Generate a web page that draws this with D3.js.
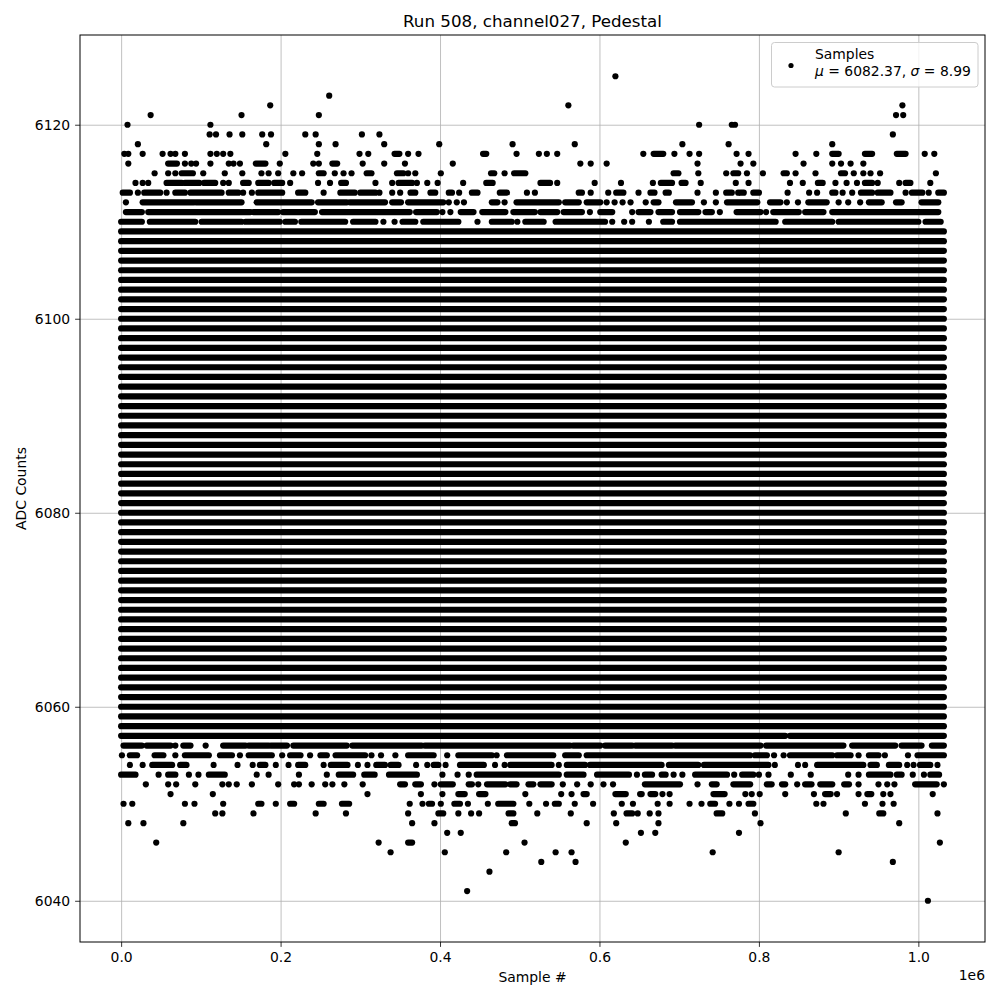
<!DOCTYPE html>
<meta charset="utf-8">
<script src="https://d3js.org/d3.v7.min.js"></script>
<style>
  body { margin: 0; background: #fff; }
  text { font-family: "DejaVu Sans", sans-serif; fill: #000; }
</style>
<body>
<svg id="chart" width="1000" height="1000"></svg>
<script>
// Sample # is kept in units of 1e6 (the axis shows the "1e6" offset)
var xTicks = [0.0, 0.2, 0.4, 0.6, 0.8, 1.0];
var yTicks = [6040, 6060, 6080, 6100, 6120];
var lastSample = 1.032;

// ADC levels hit all along the run
var fullLevels = [6058, 6059, 6060, 6061, 6062, 6063, 6064, 6065, 6066, 6067,
  6068, 6069, 6070, 6071, 6072, 6073, 6074, 6075, 6076, 6077, 6078, 6079,
  6080, 6081, 6082, 6083, 6084, 6085, 6086, 6087, 6088, 6089, 6090, 6091,
  6092, 6093, 6094, 6095, 6096, 6097, 6098, 6099, 6100, 6101, 6102, 6103,
  6104, 6105, 6106, 6107, 6108, 6109];

// stretches of consecutive samples on the sparser levels: [level, [[from, to], ...]]
var runs = [
  [6117, [[0.343,0.349],[0.454,0.458],[0.668,0.680],[0.892,0.900],[0.933,0.942],[0.973,0.984]]],
  [6116, [[0.059,0.070],[0.169,0.181],[0.265,0.271]]],
  [6115, [[0.076,0.090],[0.248,0.254],[0.308,0.314],[0.346,0.354],[0.464,0.468],[0.493,0.507],
          [0.693,0.699],[0.768,0.774],[0.831,0.835],[0.903,0.908]]],
  [6114, [[0.057,0.076],[0.080,0.098],[0.104,0.118],[0.153,0.160],[0.172,0.185],[0.192,0.202],
          [0.276,0.282],[0.348,0.365],[0.458,0.466],[0.526,0.538],[0.677,0.691],[0.703,0.708],
          [0.874,0.880],[0.933,0.942],[0.984,0.990]]],
  [6113, [[0.002,0.011],[0.029,0.049],[0.068,0.080],[0.087,0.126],[0.135,0.147],[0.172,0.202],
          [0.222,0.231],[0.275,0.293],[0.300,0.319],[0.363,0.369],[0.388,0.394],[0.411,0.415],
          [0.440,0.447],[0.475,0.484],[0.574,0.578],[0.621,0.630],[0.664,0.669],[0.683,0.687],
          [0.759,0.766],[0.777,0.781],[0.793,0.800],[0.892,0.896],[0.928,0.942],[0.949,0.965],
          [0.992,1.005],[1.025,1.032]]],
  [6112, [[0.027,0.091],[0.094,0.151],[0.170,0.239],[0.247,0.283],[0.287,0.331],[0.340,0.351],
          [0.360,0.404],[0.465,0.472],[0.496,0.549],[0.557,0.574],[0.584,0.601],[0.668,0.674],
          [0.696,0.716],[0.760,0.798],[0.814,0.827],[0.862,0.885],[0.938,0.954],[0.972,0.979],
          [1.004,1.025]]],
  [6111, [[0.006,0.026],[0.034,0.162],[0.166,0.197],[0.203,0.243],[0.252,0.362],[0.370,0.396],
          [0.426,0.442],[0.453,0.482],[0.492,0.519],[0.526,0.547],[0.555,0.578],[0.601,0.616],
          [0.649,0.664],[0.674,0.691],[0.701,0.724],[0.733,0.741],[0.772,0.802],[0.818,0.850],
          [0.858,0.881],[0.892,1.025]]],
  [6110, [[0.000,0.026],[0.036,0.093],[0.101,0.151],[0.156,0.199],[0.206,0.218],[0.226,0.281],
          [0.291,0.319],[0.353,0.369],[0.379,0.423],[0.465,0.490],[0.507,0.530],[0.545,0.607],
          [0.680,0.691],[0.701,0.821],[0.833,0.892],[0.900,1.000],[1.009,1.028]]],
  [6057, [[0.000,0.833],[0.839,1.032]]],
  [6056, [[0.003,0.026],[0.032,0.062],[0.078,0.087],[0.128,0.156],[0.160,0.185],[0.188,0.208],
          [0.216,0.283],[0.290,0.377],[0.381,0.563],[0.567,0.601],[0.607,0.641],[0.645,0.691],
          [0.695,0.802],[0.809,0.906],[0.917,0.971],[0.979,1.004],[1.017,1.032]]],
  [6055, [[0.011,0.020],[0.042,0.053],[0.080,0.110],[0.124,0.139],[0.160,0.189],[0.212,0.225],
          [0.250,0.258],[0.269,0.306],[0.360,0.392],[0.423,0.465],[0.484,0.542],[0.557,0.574],
          [0.584,0.789],[0.795,0.810],[0.839,0.892],[0.898,0.915],[0.938,0.950],[0.999,1.032]]],
  [6054, [[0.039,0.064],[0.074,0.082],[0.174,0.181],[0.222,0.231],[0.263,0.284],[0.320,0.331],
          [0.338,0.348],[0.392,0.398],[0.425,0.455],[0.488,0.540],[0.559,0.582],[0.588,0.678],
          [0.687,0.724],[0.731,0.812],[0.873,0.931],[0.940,0.948],[0.963,0.976],[1.002,1.015]]],
  [6053, [[0.000,0.018],[0.059,0.068],[0.110,0.130],[0.273,0.291],[0.305,0.318],[0.336,0.371],
          [0.446,0.549],[0.559,0.580],[0.597,0.637],[0.657,0.666],[0.678,0.683],[0.720,0.760],
          [0.779,0.793],[0.938,0.965],[0.973,0.979],[1.015,1.026]]],
  [6052, [[0.350,0.356],[0.369,0.376],[0.401,0.416],[0.436,0.440],[0.459,0.482],[0.488,0.496],
          [0.511,0.517],[0.526,0.540],[0.657,0.701],[0.741,0.747],[0.768,0.789],[0.810,0.816],
          [0.829,0.833],[0.858,0.866],[0.877,0.892],[0.907,0.913],[0.996,1.023]]],
  [6051, [[0.423,0.431],[0.449,0.457],[0.580,0.584],[0.620,0.633],[0.651,0.653],[0.664,0.670],
          [0.743,0.757],[0.883,0.890],[0.936,0.941]]],
  [6050, [[0.172,0.176],[0.212,0.217],[0.248,0.254],[0.277,0.286],[0.386,0.390],[0.418,0.425],
          [0.473,0.492],[0.544,0.549],[0.739,0.745],[0.787,0.793]]],
  [6049, [[0.398,0.404],[0.486,0.492],[0.634,0.641],[0.747,0.754],[0.951,0.956]]],
  [6048, [[0.490,0.494]]],
  [6046, [[0.360,0.365]]]
];

// single samples on the sparse levels: [level, [x, ...]]
var dots = [
  [6125, [0.620]],
  [6123, [0.261]],
  [6122, [0.187, 0.561, 0.980]],
  [6121, [0.037, 0.151, 0.248, 0.972, 0.981]],
  [6120, [0.008, 0.112, 0.725, 0.766, 0.770]],
  [6119, [0.111, 0.119, 0.136, 0.152, 0.177, 0.188, 0.231, 0.244, 0.302, 0.324, 0.968]],
  [6118, [0.021, 0.182, 0.248, 0.269, 0.330, 0.399, 0.491, 0.569, 0.704, 0.762, 0.892]],
  [6117, [0.004, 0.009, 0.027, 0.052, 0.062, 0.068, 0.080, 0.112, 0.120, 0.128, 0.137, 0.206,
          0.246, 0.299, 0.310, 0.360, 0.373, 0.496, 0.524, 0.534, 0.547, 0.655, 0.694, 0.713,
          0.725, 0.772, 0.787, 0.846, 0.872, 1.008, 1.020]],
  [6116, [0.009, 0.080, 0.088, 0.094, 0.112, 0.135, 0.141, 0.149, 0.199, 0.241, 0.248, 0.303,
          0.330, 0.356, 0.416, 0.576, 0.589, 0.609, 0.723, 0.777, 0.793, 0.856, 0.892, 0.903,
          0.915, 0.931]],
  [6115, [0.042, 0.059, 0.068, 0.103, 0.130, 0.152, 0.176, 0.185, 0.197, 0.216, 0.227, 0.268,
          0.279, 0.289, 0.360, 0.369, 0.401, 0.481, 0.724, 0.759, 0.785, 0.805, 0.846, 0.871,
          0.919, 0.931, 0.940, 0.952, 1.022]],
  [6114, [0.018, 0.027, 0.034, 0.128, 0.135, 0.212, 0.247, 0.262, 0.319, 0.340, 0.371, 0.384,
          0.397, 0.429, 0.547, 0.594, 0.627, 0.667, 0.727, 0.771, 0.787, 0.839, 0.855, 0.896,
          0.910, 0.923, 0.949, 0.976, 1.015]],
  [6113, [0.021, 0.057, 0.153, 0.164, 0.254, 0.324, 0.340, 0.350, 0.424, 0.509, 0.519, 0.589,
          0.611, 0.649, 0.723, 0.746, 0.774, 0.836, 0.863, 0.873, 0.905, 0.917, 0.984, 1.013]],
  [6112, [0.006, 0.411, 0.421, 0.430, 0.481, 0.609, 0.619, 0.629, 0.639, 0.658, 0.731, 0.746,
          0.835, 0.849, 0.900, 0.912, 0.927]],
  [6111, [0.403, 0.413, 0.588, 0.641, 0.751, 0.809]],
  [6110, [0.329, 0.343, 0.447, 0.497, 0.616, 0.631, 0.641, 0.662]],
  [6056, [0.068, 0.106]],
  [6055, [0.001, 0.068, 0.149, 0.202, 0.237, 0.314, 0.326, 0.344, 0.409, 0.471, 0.819, 0.831,
          0.925, 0.958, 0.987]],
  [6054, [0.011, 0.027, 0.116, 0.146, 0.165, 0.194, 0.210, 0.254, 0.297, 0.309, 0.370, 0.384,
          0.407, 0.469, 0.481, 0.549, 0.820, 0.849, 0.858, 0.986, 0.994, 1.024]],
  [6053, [0.047, 0.085, 0.097, 0.170, 0.185, 0.223, 0.258, 0.403, 0.422, 0.436, 0.647, 0.693,
          0.704, 0.769, 0.800, 0.812, 0.840, 0.865, 0.912, 0.925, 0.993, 1.007]],
  [6052, [0.031, 0.059, 0.069, 0.093, 0.127, 0.135, 0.145, 0.164, 0.197, 0.217, 0.223, 0.239,
          0.256, 0.265, 0.280, 0.303, 0.393, 0.448, 0.554, 0.572, 0.589, 0.605, 0.617, 0.723,
          0.848, 0.925, 0.950, 0.961, 0.970, 1.032]],
  [6051, [0.062, 0.115, 0.309, 0.376, 0.403, 0.507, 0.552, 0.565, 0.679, 0.688, 0.783, 0.791,
          0.801, 0.833, 0.869, 0.898, 0.925, 0.956, 0.965, 1.018]],
  [6050, [0.003, 0.014, 0.080, 0.092, 0.128, 0.194, 0.362, 0.378, 0.401, 0.435, 0.460, 0.512,
          0.533, 0.569, 0.592, 0.628, 0.642, 0.673, 0.688, 0.713, 0.728, 0.763, 0.775, 0.872,
          0.881, 0.933, 0.955, 0.969]],
  [6049, [0.118, 0.127, 0.166, 0.244, 0.282, 0.360, 0.423, 0.439, 0.449, 0.522, 0.564, 0.618,
          0.648, 0.663, 0.674, 0.795, 0.909, 1.024]],
  [6048, [0.009, 0.028, 0.078, 0.365, 0.393, 0.584, 0.621, 0.674, 0.802, 0.976]],
  [6047, [0.409, 0.426, 0.652, 0.670, 0.775]],
  [6046, [0.044, 0.323, 0.506, 0.633, 1.027]],
  [6045, [0.338, 0.406, 0.483, 0.545, 0.565, 0.742, 0.900]],
  [6044, [0.527, 0.570, 0.968]],
  [6043, [0.462]],
  [6041, [0.434]],
  [6040, [1.012]]
];

var svg = d3.select("#chart");
var plotL = 80, plotR = 985, plotT = 35, plotB = 942;
var r = 3.1;

var x = d3.scaleLinear().domain([-0.0516, 1.0836]).range([plotL, plotR]);
var y = d3.scaleLinear().domain([6035.75, 6129.25]).range([plotB, plotT]);

// grid
svg.append("g")
  .attr("transform", "translate(0," + plotB + ")")
  .call(d3.axisBottom(x).tickValues(xTicks).tickSize(-(plotB - plotT)).tickFormat(""))
  .call(function (g) { g.select(".domain").remove(); })
  .selectAll("line").attr("stroke", "#b0b0b0").attr("stroke-width", 0.8);
svg.append("g")
  .attr("transform", "translate(" + plotL + ",0)")
  .call(d3.axisLeft(y).tickValues(yTicks).tickSize(-(plotR - plotL)).tickFormat(""))
  .call(function (g) { g.select(".domain").remove(); })
  .selectAll("line").attr("stroke", "#b0b0b0").attr("stroke-width", 0.8);

// samples
var plot = svg.append("g");

plot.selectAll("line.full")
  .data(fullLevels)
  .enter().append("line")
    .attr("class", "full")
    .attr("x1", x(0)).attr("x2", x(lastSample))
    .attr("y1", function (d) { return y(d); })
    .attr("y2", function (d) { return y(d); })
    .attr("stroke", "#000").attr("stroke-width", 2 * r).attr("stroke-linecap", "round");

var runSegs = [];
runs.forEach(function (row) {
  row[1].forEach(function (s) { runSegs.push({ level: row[0], from: s[0], to: s[1] }); });
});
plot.selectAll("line.run")
  .data(runSegs)
  .enter().append("line")
    .attr("class", "run")
    .attr("x1", function (d) { return x(d.from); })
    .attr("x2", function (d) { return x(d.to); })
    .attr("y1", function (d) { return y(d.level); })
    .attr("y2", function (d) { return y(d.level); })
    .attr("stroke", "#000").attr("stroke-width", 2 * r).attr("stroke-linecap", "round");

var pts = [];
dots.forEach(function (row) {
  row[1].forEach(function (v) { pts.push({ level: row[0], x: v }); });
});
plot.selectAll("circle")
  .data(pts)
  .enter().append("circle")
    .attr("cx", function (d) { return x(d.x); })
    .attr("cy", function (d) { return y(d.level); })
    .attr("r", r)
    .attr("fill", "#000");

// axes
var xAxis = svg.append("g")
  .attr("transform", "translate(0," + plotB + ")")
  .call(d3.axisBottom(x).tickValues(xTicks).tickFormat(d3.format(".1f")).tickSize(4.9).tickPadding(4.9));
var yAxis = svg.append("g")
  .attr("transform", "translate(" + plotL + ",0)")
  .call(d3.axisLeft(y).tickValues(yTicks).tickFormat(d3.format("d")).tickSize(4.9).tickPadding(4.9));
[xAxis, yAxis].forEach(function (g) {
  g.select(".domain").remove();
  g.selectAll("line").attr("stroke", "#000").attr("stroke-width", 0.8);
  g.selectAll("text").attr("font-family", "DejaVu Sans").attr("font-size", "13.9px").attr("fill", "#000");
});

svg.append("rect")
  .attr("x", plotL).attr("y", plotT)
  .attr("width", plotR - plotL).attr("height", plotB - plotT)
  .attr("fill", "none").attr("stroke", "#000").attr("stroke-width", 1);

// labels
svg.append("text")
  .attr("x", (plotL + plotR) / 2).attr("y", 27)
  .attr("text-anchor", "middle").attr("font-size", "16.7px")
  .text("Run 508, channel027, Pedestal");
svg.append("text")
  .attr("x", (plotL + plotR) / 2).attr("y", 982)
  .attr("text-anchor", "middle").attr("font-size", "13.9px")
  .text("Sample #");
svg.append("text")
  .attr("x", plotR).attr("y", 980)
  .attr("text-anchor", "end").attr("font-size", "13.9px")
  .text("1e6");
svg.append("text")
  .attr("transform", "translate(26," + (plotT + plotB) / 2 + ") rotate(-90)")
  .attr("text-anchor", "middle").attr("font-size", "13.9px")
  .text("ADC Counts");

// legend
var legend = svg.append("g");
legend.append("rect")
  .attr("x", 771.5).attr("y", 42.5).attr("width", 206.5).attr("height", 44.5)
  .attr("rx", 3).attr("fill", "#fff").attr("fill-opacity", 0.8)
  .attr("stroke", "#cccccc").attr("stroke-width", 1);
legend.append("circle")
  .attr("cx", 791).attr("cy", 65.5).attr("r", 2.6).attr("fill", "#000");
legend.append("text")
  .attr("x", 815).attr("y", 58.5).attr("font-size", "13.9px")
  .text("Samples");
var l2 = legend.append("text")
  .attr("x", 815).attr("y", 76).attr("font-size", "13.9px");
l2.append("tspan").attr("font-style", "italic").text("\u03bc");
l2.append("tspan").text(" = 6082.37, ");
l2.append("tspan").attr("font-style", "italic").text("\u03c3");
l2.append("tspan").text(" = 8.99");
</script>
</body>
